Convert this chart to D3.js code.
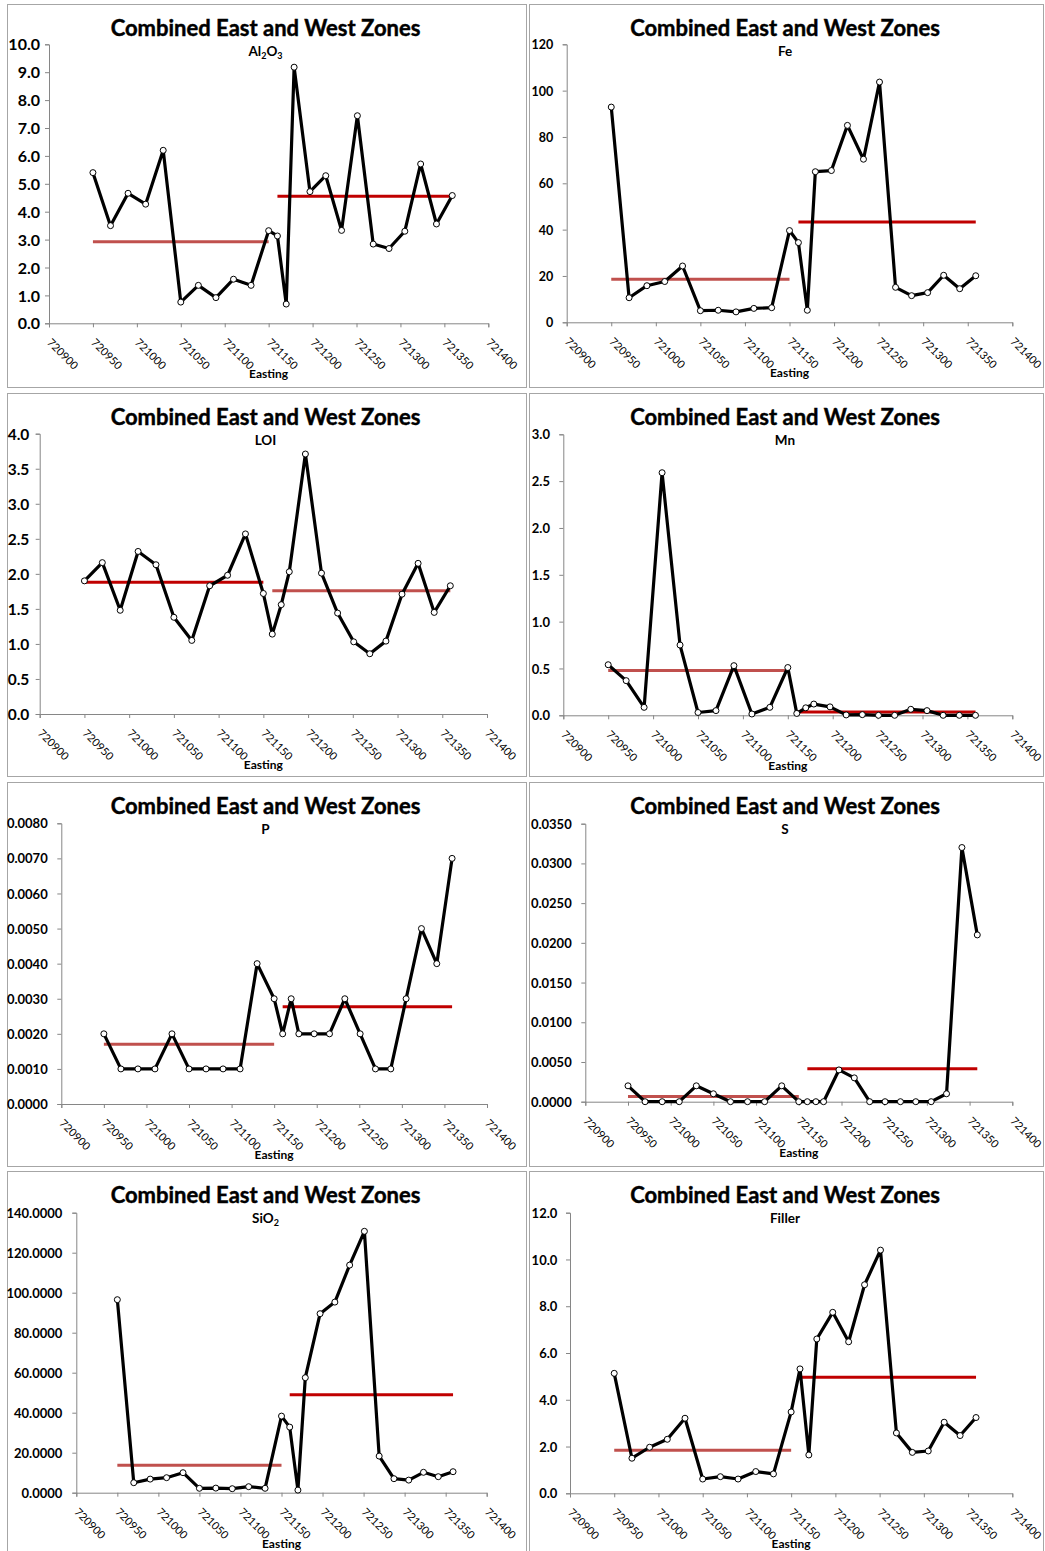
<!DOCTYPE html>
<html>
<head>
<meta charset="utf-8">
<script src="https://cdn.jsdelivr.net/npm/d3@7"></script>
<style>
  body { margin: 0; background: #fff; }
  svg text { font-family: Lato, "Open Sans", sans-serif; }
</style>
</head>
<body>
<svg id="chart" width="1045" height="1551"></svg>
<script>
// Sample positions along the traverse (Easting, m)
const easting = [720950, 720970, 720990, 721010, 721030, 721050, 721070, 721090, 721110, 721130, 721150,
                 721160, 721170, 721179, 721197, 721215, 721233, 721251, 721269, 721287, 721305, 721323, 721341, 721359];
// first samples belong to the West zone, the rest to the East zone
const westCount = 11;
const xTicks = [720900, 720950, 721000, 721050, 721100, 721150, 721200, 721250, 721300, 721350, 721400];

// Assay values per sample
const al2o3  = [5.40, 3.50, 4.66, 4.27, 6.20, 0.76, 1.36, 0.92, 1.58, 1.36, 3.32, 3.13, 0.69, 9.18, 4.72, 5.29, 3.33, 7.44, 2.84, 2.68, 3.30, 5.71, 3.56, 4.58];
const fe     = [92.9, 10.6, 15.8, 17.6, 24.3, 5.0, 5.2, 4.5, 6.0, 6.3, 39.6, 34.4, 5.2, 65.0, 65.5, 85.0, 70.4, 103.7, 15.1, 11.5, 12.8, 20.3, 14.5, 20.1];
const loi    = [1.90, 2.16, 1.48, 2.32, 2.13, 1.38, 1.05, 1.83, 1.98, 2.57, 1.72, 1.14, 1.56, 2.03, 3.71, 2.01, 1.44, 1.03, 0.86, 1.04, 1.71, 2.15, 1.45, 1.83];
const mn     = [0.54, 0.37, 0.085, 2.59, 0.75, 0.03, 0.05, 0.53, 0.014, 0.085, 0.51, 0.02, 0.08, 0.12, 0.09, 0.004, 0.007, 0.0, 0.0, 0.064, 0.05, 0.0, 0.0, 0.0];
const p      = [0.002, 0.001, 0.001, 0.001, 0.002, 0.001, 0.001, 0.001, 0.001, 0.004, 0.003, 0.002, 0.003, 0.002, 0.002, 0.002, 0.003, 0.002, 0.001, 0.001, 0.003, 0.005, 0.004, 0.007];
const s      = [0.002, 0.0, 0.0, 0.0, 0.002, 0.001, 0.0, 0.0, 0.0, 0.002, 0.0, 0.0, 0.0, 0.0, 0.004, 0.003, 0.0, 0.0, 0.0, 0.0, 0.0, 0.001, 0.032, 0.021];
const sio2   = [96.5, 5.0, 6.8, 7.5, 10.0, 2.2, 2.3, 2.0, 3.0, 2.2, 38.3, 32.8, 1.3, 57.5, 89.5, 95.3, 113.8, 130.7, 18.3, 7.0, 6.3, 10.2, 8.0, 10.5];
const filler = [5.13, 1.50, 1.97, 2.31, 3.21, 0.61, 0.71, 0.61, 0.93, 0.83, 3.48, 5.32, 1.64, 6.60, 7.74, 6.48, 8.92, 10.40, 2.58, 1.75, 1.81, 3.04, 2.47, 3.24];

// Zone averages [West, East]
const al2o3Zone  = [2.92, 4.55];
const feZone     = [18.6, 43.3];
const loiZone    = [1.88, 1.76];
const mnZone     = [0.477, 0.036];
const pZone      = [0.0017, 0.00277];
const sZone      = [0.00067, 0.00415];
const sio2Zone   = [13.7, 49.0];
const fillerZone = [1.84, 4.96];

// Value-axis ticks
const al2o3Ticks  = d3.range(0, 10.001, 1);
const feTicks     = d3.range(0, 120.001, 20);
const loiTicks    = d3.range(0, 4.001, 0.5);
const mnTicks     = d3.range(0, 3.001, 0.5);
const pTicks      = d3.range(0, 0.00801, 0.001);
const sTicks      = d3.range(0, 0.03501, 0.005);
const sio2Ticks   = d3.range(0, 140.001, 20);
const fillerTicks = d3.range(0, 12.001, 2);

const chartTitle = "Combined East and West Zones";
const LIGHT_RED = "#c0504d", DARK_RED = "#c00000";

// Layout of each chart: box = frame [x, y, w, h]; plot = [left, top, right, bottom];
// lab = right edge of value labels, labSize = their font size
const panels = [
  { sub: [["Al"], ["2", 1], ["O"], ["3", 1]], values: al2o3, zone: al2o3Zone, ticks: al2o3Ticks, fmt: ".1f",
    zoneColors: [LIGHT_RED, DARK_RED], box: [7, 4, 519, 383], plot: [49, 44.3, 488.3, 323.3], lab: 40, labSize: 16 },
  { sub: [["Fe"]], values: fe, zone: feZone, ticks: feTicks, fmt: "d",
    zoneColors: [LIGHT_RED, DARK_RED], box: [529, 4, 514, 383], plot: [566.7, 44.3, 1012.3, 322.3], lab: 553.3, labSize: 12.5 },
  { sub: [["LOI"]], values: loi, zone: loiZone, ticks: loiTicks, fmt: ".1f",
    zoneColors: [DARK_RED, LIGHT_RED], box: [7, 393, 519, 383], plot: [39.7, 433.7, 487, 714], lab: 29.3, labSize: 15.5 },
  { sub: [["Mn"]], values: mn, zone: mnZone, ticks: mnTicks, fmt: ".1f",
    zoneColors: [LIGHT_RED, DARK_RED], box: [529, 393, 514, 383], plot: [563.3, 434.3, 1012.3, 715.3], lab: 550, labSize: 13 },
  { sub: [["P"]], values: p, zone: pZone, ticks: pTicks, fmt: ".4f",
    zoneColors: [LIGHT_RED, DARK_RED], box: [7, 782, 519, 384], plot: [61.3, 823.3, 487, 1104], lab: 47.7, labSize: 13 },
  { sub: [["S"]], values: s, zone: sZone, ticks: sTicks, fmt: ".4f",
    zoneColors: [LIGHT_RED, DARK_RED], box: [529, 782, 514, 384], plot: [585.3, 823.7, 1012.3, 1101.7], lab: 571.7, labSize: 13 },
  { sub: [["SiO"], ["2", 1]], values: sio2, zone: sio2Zone, ticks: sio2Ticks, fmt: ".4f",
    zoneColors: [LIGHT_RED, DARK_RED], box: [7, 1171, 519, 400], plot: [76.3, 1212.7, 486.7, 1492.7], lab: 62.3, labSize: 13 },
  { sub: [["Filler"]], values: filler, zone: fillerZone, ticks: fillerTicks, fmt: ".1f",
    zoneColors: [LIGHT_RED, DARK_RED], box: [529, 1171, 514, 400], plot: [570, 1212.7, 1012.3, 1493.3], lab: 557.3, labSize: 13 }
];

const svg = d3.select("#chart");

panels.forEach(pn => {
  const [bx, by, bw, bh] = pn.box;
  const [pl, pt, pr, pb] = pn.plot;
  const g = svg.append("g");

  // chart frame
  g.append("rect")
    .attr("x", bx + 0.5).attr("y", by + 0.5).attr("width", bw).attr("height", bh)
    .attr("fill", "#fff").attr("stroke", "#a6a6a6").attr("stroke-width", 1);

  const x = d3.scaleLinear().domain([xTicks[0], xTicks[xTicks.length - 1]]).range([pl, pr]);
  const y = d3.scaleLinear().domain([0, pn.ticks[pn.ticks.length - 1]]).range([pb, pt]);

  // titles
  const cx = bx + bw / 2;
  g.append("text").attr("x", cx - 1).attr("y", by + 32)
    .attr("text-anchor", "middle").attr("font-size", 22).attr("font-weight", 700)
    .attr("stroke", "#000").attr("stroke-width", 0.45)
    .text(chartTitle);
  const st = g.append("text").attr("x", cx - 1).attr("y", by + 55)
    .attr("text-anchor", "middle").attr("font-size", 13.5).attr("font-weight", 700);
  pn.sub.forEach(([t, isSub]) => {
    if (isSub) st.append("tspan").attr("font-size", 9).attr("dy", 3).text(t);
    else st.append("tspan").attr("dy", st.selectAll("tspan").size() ? -3 : 0).text(t);
  });

  // value axis
  const yAxis = g.append("g").attr("transform", `translate(${pl},0)`)
    .call(d3.axisLeft(y).tickValues(pn.ticks).tickFormat(d3.format(pn.fmt)).tickSize(4).tickPadding(0));
  yAxis.select(".domain").attr("stroke", "#868686");
  yAxis.selectAll(".tick line").attr("stroke", "#868686");
  yAxis.selectAll(".tick text")
    .attr("x", pn.lab - pl).attr("dy", "0.35em")
    .attr("font-family", "Lato, sans-serif").attr("font-size", pn.labSize).attr("font-weight", 700).attr("fill", "#000");

  // easting axis
  const xAxis = g.append("g").attr("transform", `translate(0,${pb})`)
    .call(d3.axisBottom(x).tickValues(xTicks).tickFormat(d3.format("d")).tickSize(4));
  xAxis.select(".domain").attr("stroke", "#868686");
  xAxis.selectAll(".tick line").attr("stroke", "#868686");
  xAxis.selectAll(".tick text")
    .attr("font-family", "Lato, sans-serif").attr("font-size", 11).attr("fill", "#000")
    .attr("text-anchor", "start").attr("y", 0).attr("dy", 0)
    .attr("transform", "translate(-3,20) rotate(45)");

  g.append("text").attr("x", (pl + pr) / 2).attr("y", pb + 55)
    .attr("text-anchor", "middle").attr("font-size", 12).attr("font-weight", 700).text("Easting");

  // zone averages
  const zones = [[0, westCount - 1], [westCount, easting.length - 1]];
  zones.forEach(([i0, i1], k) => {
    g.append("line")
      .attr("x1", x(easting[i0])).attr("x2", x(easting[i1]))
      .attr("y1", y(pn.zone[k])).attr("y2", y(pn.zone[k]))
      .attr("stroke", pn.zoneColors[k]).attr("stroke-width", 3);
  });

  // assay profile
  const pts = easting.map((e, i) => [e, pn.values[i]]);
  g.append("path").datum(pts)
    .attr("fill", "none").attr("stroke", "#000").attr("stroke-width", 3.2).attr("stroke-linejoin", "round")
    .attr("d", d3.line().x(d => x(d[0])).y(d => y(d[1])));
  g.selectAll("circle.pt").data(pts).join("circle").attr("class", "pt")
    .attr("cx", d => x(d[0])).attr("cy", d => y(d[1])).attr("r", 3)
    .attr("fill", "#fff").attr("stroke", "#000").attr("stroke-width", 1);
});
</script>
</body>
</html>
